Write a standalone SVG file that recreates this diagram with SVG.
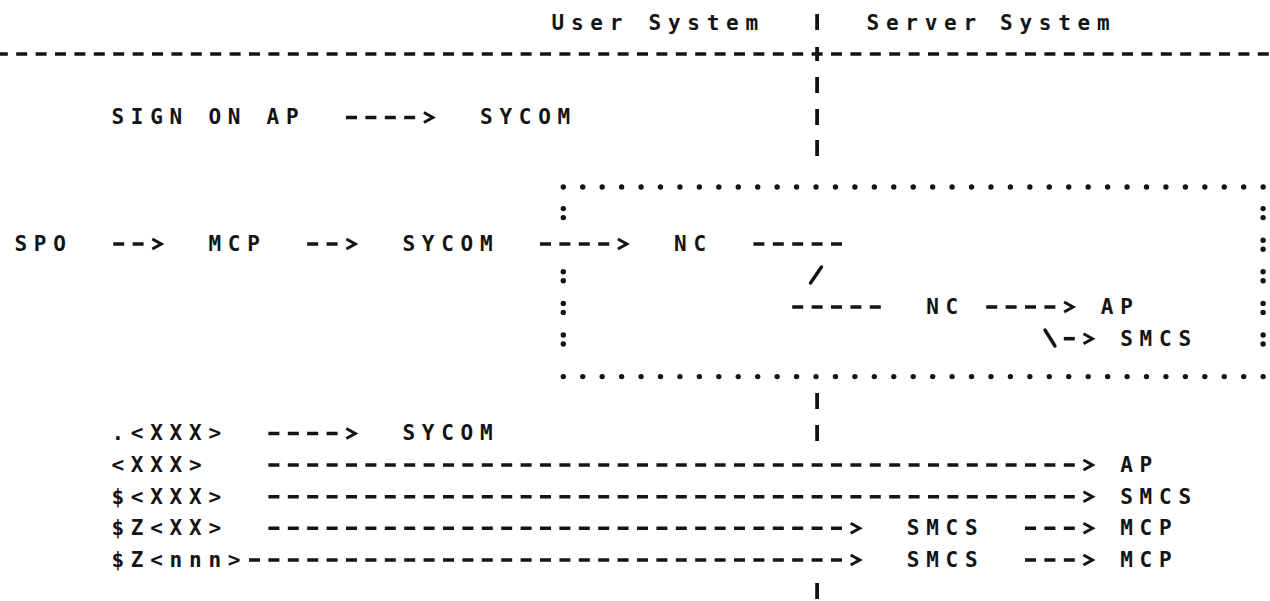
<svg xmlns="http://www.w3.org/2000/svg" width="1270" height="601" viewBox="0 0 1270 601">
<style>
.t{font-family:"DejaVu Sans Mono","Liberation Mono",monospace;font-size:21px;font-weight:bold;letter-spacing:6.76px;fill:#141414}
.d{stroke:#141414;stroke-width:3.6;stroke-dasharray:11 8.4;fill:none}
.a{marker-end:url(#chev)}
.s{stroke:#141414;stroke-width:3.4;fill:none;stroke-linecap:round}
.bar{stroke:#141414;stroke-width:3.8}
.dot{stroke:#141414;stroke-width:5.4;stroke-linecap:round;stroke-dasharray:0 19.44;fill:none}
.col{stroke:#141414;stroke-width:5.4;stroke-linecap:round;fill:none}
</style>
<defs>
<marker id="chev" markerUnits="userSpaceOnUse" markerWidth="22" markerHeight="12" refX="0" refY="6" orient="auto" overflow="visible">
<path d="M8.7,1 L17.7,6 L8.7,11" fill="none" stroke="#141414" stroke-width="3"/>
</marker>
</defs>
<rect width="1270" height="601" fill="#ffffff"/>

<g id="boundary">
<line class="d" x1="-3.2" y1="54" x2="1270" y2="54"/>
<line class="bar" x1="817.1" y1="47" x2="817.1" y2="61"/>
<line class="bar" x1="817.1" y1="14" x2="817.1" y2="30"/>
<line class="bar" x1="817.1" y1="77" x2="817.1" y2="93"/>
<line class="bar" x1="817.1" y1="109" x2="817.1" y2="125"/>
<line class="bar" x1="817.1" y1="140" x2="817.1" y2="156"/>
<line class="bar" x1="817.1" y1="393" x2="817.1" y2="409"/>
<line class="bar" x1="817.1" y1="425" x2="817.1" y2="441"/>
<line class="bar" x1="817.1" y1="583" x2="817.1" y2="599"/>
</g>

<g id="header">
<text class="t" x="551.5" y="29.6">User</text>
<text class="t" x="648.5" y="29.6">System</text>
<text class="t" x="866.5" y="29.6">Server</text>
<text class="t" x="1000" y="29.6">System</text>
</g>

<g id="server-box">
<line class="dot" x1="563.3" y1="187" x2="1263.3" y2="187"/>
<line class="dot" x1="563.3" y1="376.6" x2="1263.3" y2="376.6"/>
<path class="col" d="M563.3,208.6h0M563.3,217.6h0M563.3,271.8h0M563.3,280.8h0M563.3,303.4h0M563.3,312.4h0M563.3,335h0M563.3,344h0"/>
<path class="col" d="M1263.1,208.6h0M1263.1,217.6h0M1263.1,240.2h0M1263.1,249.2h0M1263.1,271.8h0M1263.1,280.8h0M1263.1,303.4h0M1263.1,312.4h0M1263.1,335h0M1263.1,344h0"/>
</g>

<g id="node-signon-ap"><text class="t" x="111.4" y="124.4">SIGN ON AP</text></g>
<g id="node-sycom-1"><text class="t" x="480" y="124.4">SYCOM</text></g>
<g id="node-spo"><text class="t" x="14.4" y="250.8">SPO</text></g>
<g id="node-mcp-1"><text class="t" x="208.4" y="250.8">MCP</text></g>
<g id="node-sycom-2"><text class="t" x="402.4" y="250.8">SYCOM</text></g>
<g id="node-nc-user"><text class="t" x="674" y="250.8">NC</text></g>
<g id="node-nc-server"><text class="t" x="926.2" y="314">NC</text></g>
<g id="node-ap-1"><text class="t" x="1100.8" y="314">AP</text></g>
<g id="node-smcs-1"><text class="t" x="1120.2" y="345.6">SMCS</text></g>
<g id="node-dot-xxx"><text class="t" x="111.4" y="440.4">.&lt;XXX&gt;</text></g>
<g id="node-sycom-3"><text class="t" x="402.4" y="440.4">SYCOM</text></g>
<g id="node-xxx"><text class="t" x="111.4" y="472">&lt;XXX&gt;</text></g>
<g id="node-ap-2"><text class="t" x="1120.2" y="472">AP</text></g>
<g id="node-dollar-xxx"><text class="t" x="111.4" y="503.6">$&lt;XXX&gt;</text></g>
<g id="node-smcs-2"><text class="t" x="1120.2" y="503.6">SMCS</text></g>
<g id="node-dollar-z-xx"><text class="t" x="111.4" y="535.2">$Z&lt;XX&gt;</text></g>
<g id="node-smcs-3"><text class="t" x="906.8" y="535.2">SMCS</text></g>
<g id="node-mcp-2"><text class="t" x="1120.2" y="535.2">MCP</text></g>
<g id="node-dollar-z-nnn"><text class="t" x="111.4" y="566.8">$Z&lt;nnn&gt;</text></g>
<g id="node-smcs-4"><text class="t" x="906.8" y="566.8">SMCS</text></g>
<g id="node-mcp-3"><text class="t" x="1120.2" y="566.8">MCP</text></g>

<g id="connectors">
<line class="d a" x1="346" y1="117.5" x2="415.2" y2="117.5"/>
<line class="d a" x1="113.2" y1="244" x2="143.6" y2="244"/>
<line class="d a" x1="307.2" y1="244" x2="337.6" y2="244"/>
<line class="d a" x1="540" y1="244" x2="609.2" y2="244"/>
<line class="d" x1="753.4" y1="244" x2="842" y2="244"/>
<line class="s" x1="810.5" y1="283" x2="821.5" y2="267"/>
<line class="d" x1="792.2" y1="307" x2="880.8" y2="307"/>
<line class="d a" x1="986.2" y1="307" x2="1055.4" y2="307"/>
<line class="s" x1="1045" y1="330" x2="1055" y2="346"/>
<line class="d a" x1="1063.8" y1="338.7" x2="1074.8" y2="338.7"/>
<line class="d a" x1="268.4" y1="433.5" x2="337.6" y2="433.5"/>
<line class="d a" x1="268.4" y1="465" x2="1074.8" y2="465"/>
<line class="d a" x1="268.4" y1="496.7" x2="1074.8" y2="496.7"/>
<line class="d a" x1="268.4" y1="528.3" x2="842" y2="528.3"/>
<line class="d a" x1="1025" y1="528.3" x2="1074.8" y2="528.3"/>
<line class="d a" x1="249" y1="560" x2="842" y2="560"/>
<line class="d a" x1="1025" y1="560" x2="1074.8" y2="560"/>
</g>
</svg>
